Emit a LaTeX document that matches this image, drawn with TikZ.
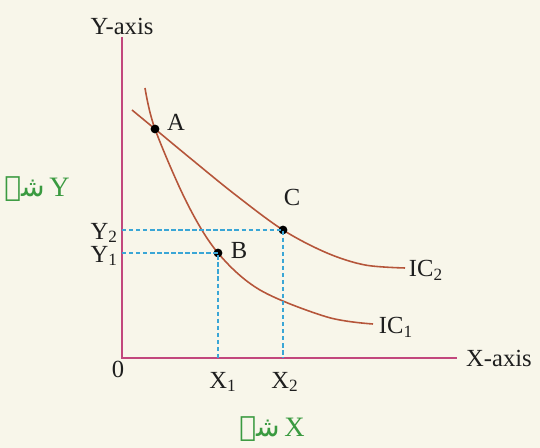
\documentclass[tikz,border=0pt]{standalone}
\usepackage{fontspec}
\setmainfont{Liberation Serif}
\newfontfamily\urdufont[Script=Arabic]{DejaVu Sans}
\TeXXeTstate=1
\usepackage{tikz}
\usetikzlibrary{positioning}
\definecolor{figPaper}{RGB}{248,246,234}
\definecolor{figAxis}{RGB}{194,71,125}
\definecolor{figCurve}{RGB}{181,85,58}
\definecolor{figGuide}{RGB}{58,166,214}
\definecolor{figGreen}{RGB}{58,154,64}
\definecolor{figInk}{RGB}{30,30,30}

\begin{document}
\begin{tikzpicture}[
  font=\fontsize{14}{16}\selectfont,
  axis/.style={draw=figAxis,line width=1.1pt},
  curve/.style={draw=figCurve,line width=0.9pt},
  guide/.style={draw=figGuide,line width=0.9pt,dash pattern=on 2.5pt off 1.5pt},
  dot/.style={circle,fill=black,inner sep=0pt,minimum size=5pt},
  lbl/.style={text=figInk,inner sep=1pt},
  good/.style={text=figGreen,inner sep=1pt,font=\fontsize{16}{18}\selectfont}
]
\fill[figPaper] (0,0) rectangle (10.8,8.96);
\useasboundingbox (0,0) rectangle (10.8,8.96);

% axes
\coordinate (O) at (2.44,1.80);
\coordinate (ytop) at (2.44,8.22);
\coordinate (xend) at (9.14,1.80);
\draw[axis] (ytop) -- (O) -- (xend);
\node[lbl,above=0pt of ytop] (ylabel) {Y-axis};
\node[lbl,right=4pt of xend] (xlabel) {X-axis};
\node[lbl] (zero) at (2.36,1.58) {0};

% indifference curves
\draw[curve] plot[smooth,tension=0.55] coordinates {
  (2.90,7.20) (3.10,6.38) (3.74,4.90) (4.36,3.90) (5.20,3.16) (6.54,2.62) (7.46,2.48)};
\draw[curve] plot[smooth,tension=0.55] coordinates {
  (2.64,6.76) (3.10,6.38) (3.80,5.80) (4.70,5.07) (5.66,4.36) (6.54,3.90) (7.30,3.66) (8.10,3.60)};
\node[lbl] (ic1) at (7.92,2.42) {IC\textsubscript{1}};
\node[lbl] (ic2) at (8.52,3.56) {IC\textsubscript{2}};

% bundles
\node[dot] (ptA) at (3.10,6.38) {};
\node[dot] (ptB) at (4.36,3.90) {};
\node[dot] (ptC) at (5.66,4.36) {};
\node[lbl] (labA) at (3.52,6.52) {A};
\node[lbl] (labB) at (4.78,3.96) {B};
\node[lbl] (labC) at (5.84,5.02) {C};

\draw[guide] (O |- ptC) -- (ptC.center) -- (ptC |- O);
\draw[guide] (O |- ptB) -- (ptB.center) -- (ptB |- O);

\node[lbl,anchor=east] (y2) at (2.40,4.30) {Y\textsubscript{2}};
\node[lbl,anchor=east] (y1) at (2.40,3.84) {Y\textsubscript{1}};
\node[lbl] (x1) at (4.46,1.32) {X\textsubscript{1}};
\node[lbl] (x2) at (5.70,1.32) {X\textsubscript{2}};

% goods
\node[good] (goodY) at (0.74,5.18) {{\urdufont\beginR شے\endR}\,Y};
\node[good] (goodX) at (5.44,0.38) {{\urdufont\beginR شے\endR}\,X};

\end{tikzpicture}
\end{document}
